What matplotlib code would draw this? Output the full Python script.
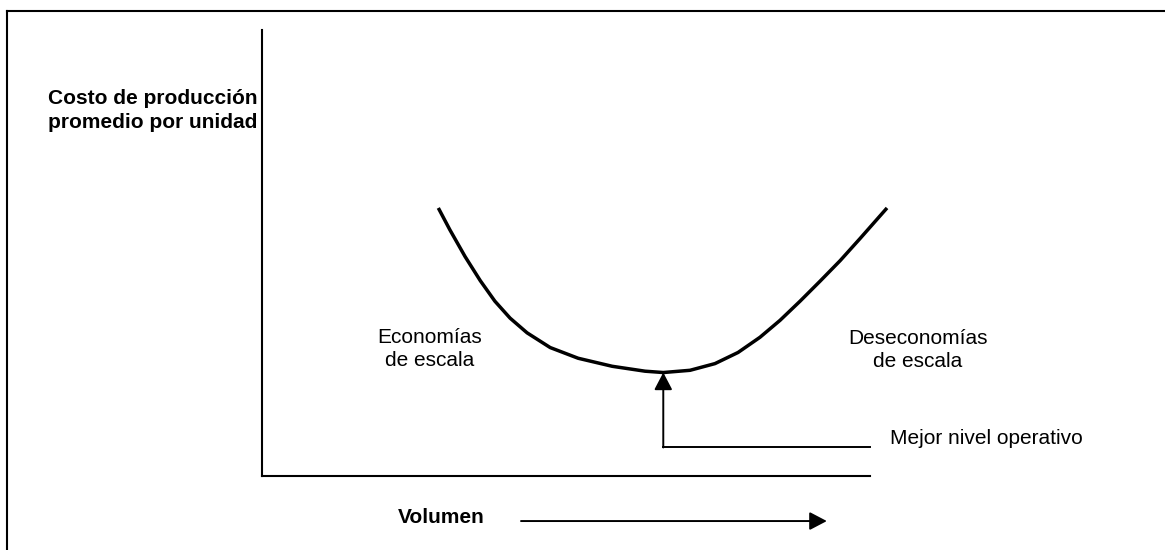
import matplotlib
matplotlib.use("Agg")
import matplotlib.pyplot as plt
from matplotlib.lines import Line2D

plt.rcParams['font.family'] = ['Liberation Sans', 'DejaVu Sans']

# average cost curve (volume, cost in arbitrary units 0-100)
volume = [29.0, 30.9, 33.4, 35.9, 38.3, 40.8, 43.6, 47.4, 52.0, 57.6, 63.0, 66.0,
          70.4, 74.5, 78.3, 81.9, 85.2, 88.5, 91.8, 95.1, 98.4, 102.8]
cost = [60.1, 55.2, 49.2, 43.8, 39.2, 35.4, 32.1, 28.8, 26.4, 24.6, 23.5, 23.2,
        23.7, 25.2, 27.7, 31.1, 34.9, 39.2, 43.7, 48.3, 53.3, 60.1]

# best operating level (minimum of the curve)
best_volume = 66
best_cost = 23.2

y_label = "Costo de producción\npromedio por unidad"
x_label = "Volumen"
left_label = "Economías\nde escala"
right_label = "Deseconomías\nde escala"
best_label = "Mejor nivel operativo"

W, H = 1165, 550
fig = plt.figure(figsize=(W / 100, H / 100), dpi=100)
ax = fig.add_axes([262 / W, 74 / H, 608 / W, 446 / H])
ax.set_xlim(0, 100)
ax.set_ylim(0, 100)
for side in ['top', 'right']:
    ax.spines[side].set_visible(False)
for side in ['left', 'bottom']:
    ax.spines[side].set_linewidth(1.5)
ax.set_xticks([])
ax.set_yticks([])
ax.patch.set_alpha(0)

# cost curve
ax.plot(volume, cost, color='black', lw=2.5, clip_on=False,
        solid_capstyle='butt', solid_joinstyle='round')

arrow_style = dict(arrowstyle='-|>,head_length=1.05,head_width=0.55',
                   color='black', lw=1.4, shrinkA=0, shrinkB=0)

# arrow pointing at the minimum + line to its label
ax.plot([best_volume, 100], [6.4, 6.4], color='black', lw=1.4, clip_on=False)
ax.annotate('', xy=(best_volume, best_cost), xytext=(best_volume, 6.4),
            arrowprops=arrow_style)
ax.text(103.3, 8.3, best_label, fontsize=15, ha='left', va='center')

ax.text(27.6, 28.4, left_label, fontsize=15, ha='center', va='center', linespacing=1.26)
ax.text(107.9, 28.3, right_label, fontsize=15, ha='center', va='center', linespacing=1.26)

# volume axis label with arrow below the chart
ax.text(29.4, -9.4, x_label, fontsize=15, fontweight='bold', ha='center', va='center')
ax.annotate('', xy=(92.9, -10.1), xytext=(42.6, -10.1), annotation_clip=False,
            arrowprops=arrow_style)

fig.text(257 / W, 1 - 110.5 / H, y_label, fontsize=15, fontweight='bold',
         ha='right', va='center', multialignment='right', linespacing=1.37)

# outer frame (only top and left edges fall inside the picture)
fig.add_artist(Line2D([6.5 / W, 1], [1 - 11 / H, 1 - 11 / H], transform=fig.transFigure,
                      color='black', lw=1.5))
fig.add_artist(Line2D([6.5 / W, 6.5 / W], [0, 1 - 11 / H], transform=fig.transFigure,
                      color='black', lw=1.5))

fig.savefig('out.png', dpi=100, facecolor='white')
